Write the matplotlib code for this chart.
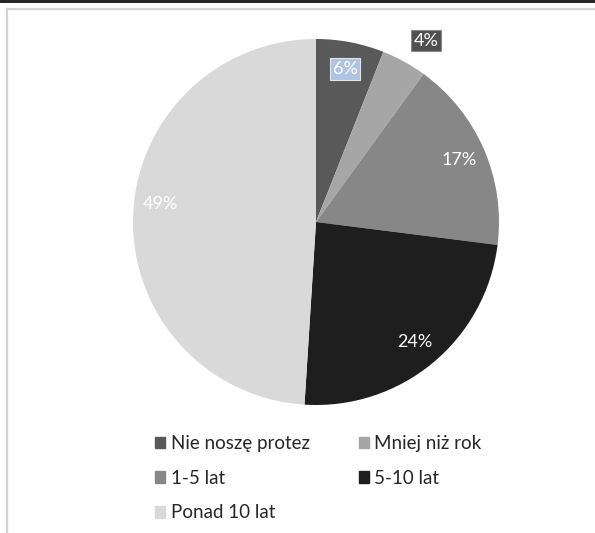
import matplotlib.pyplot as plt
from matplotlib.patches import Rectangle
from matplotlib.lines import Line2D

# dane: staż noszenia protez
labels = ["Nie noszę protez", "Mniej niż rok", "1-5 lat", "5-10 lat", "Ponad 10 lat"]
shares = [6, 4, 17, 24, 49]
colors = ["#595959", "#a6a6a6", "#878787", "#1e1e1e", "#d9d9d9"]

plt.rcParams['font.family'] = ['Lato', 'DejaVu Sans']

W, H = 595, 533
fig = plt.figure(figsize=(W / 100, H / 100), dpi=100)
fig.patch.set_facecolor("white")

# ramka w stylu okna
fig.add_artist(Rectangle((0, 1 - 3 / H), 1, 3 / H, transform=fig.transFigure,
                         color="#262626", lw=0))
fig.add_artist(Line2D([7 / W, 1], [1 - 9 / H, 1 - 9 / H], transform=fig.transFigure,
                      color="#d4d4d4", lw=1.6))
fig.add_artist(Line2D([7 / W, 7 / W], [0, 1 - 9 / H], transform=fig.transFigure,
                      color="#d4d4d4", lw=1.6))

# wykres kołowy
cx, cy, r = 316, 222, 183
ax = fig.add_axes([(cx - r) / W, 1 - (cy + r) / H, 2 * r / W, 2 * r / H])
wedges, texts, autotexts = ax.pie(
    shares, colors=colors, startangle=90, counterclock=False,
    autopct=lambda p: f"{p:.0f}%", pctdistance=0.85,
    wedgeprops=dict(linewidth=0),
    textprops=dict(color="white", fontsize=13))
ax.set_xlim(-1, 1)
ax.set_ylim(-1, 1)
ax.set_aspect("auto")
ax.axis("off")

# etykiety 6% i 4% w ramkach
autotexts[0].set_bbox(dict(boxstyle="square,pad=0.15", fc="#aec4e2", ec="#dce6f2", lw=0.8))
x4, y4 = autotexts[1].get_position()
autotexts[1].set_position((x4 * 1.47, y4 * 1.33))
autotexts[1].set_bbox(dict(boxstyle="square,pad=0.15", fc="#505050", ec="#8a8a8a", lw=0.8))
x49, y49 = autotexts[4].get_position()
autotexts[4].set_position((x49, y49 + 0.07))

# legenda: kolejność wierszami (2 kolumny)
order = [0, 2, 4, 1, 3]
handles = [Rectangle((0, 0), 1, 1, color=colors[i]) for i in order]
fig.legend(handles, [labels[i] for i in order], ncol=2, frameon=False,
           loc="upper left", bbox_to_anchor=(138 / W, 1 - 418 / H),
           fontsize=13.5, handlelength=0.55, handleheight=0.55, handletextpad=0.3,
           labelspacing=0.95, columnspacing=2.6, labelcolor="#262626")

fig.savefig("out.png", dpi=100, facecolor="white")
